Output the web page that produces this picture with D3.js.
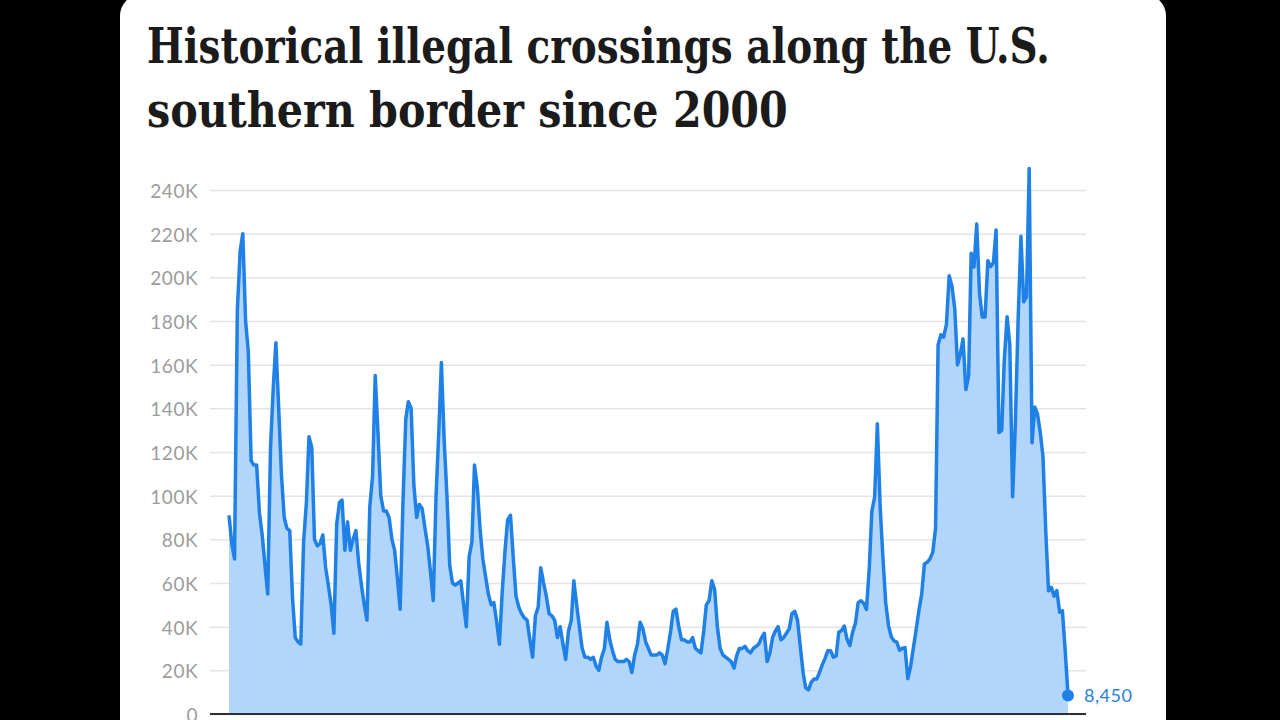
<!DOCTYPE html>
<html>
<head>
<meta charset="utf-8">
<script src="https://cdn.jsdelivr.net/npm/d3@7"></script>
<style>
  body { margin: 0; background: #000; }
  svg { display: block; }
</style>
</head>
<body>
<script>
// Monthly Border Patrol apprehensions, first month = Oct 1999, last = Feb 2025
const firstMonth = new Date(1999, 9, 1);
const crossings = [
  // FY2000
  91000, 78000, 71000, 185000, 212000, 220000, 180000, 166000, 116000, 114000, 114000, 92000,
  // FY2001
  82000, 68000, 55000, 122000, 150000, 170000, 140000, 110000, 90000, 85000, 84000, 53000,
  // FY2002
  35000, 33000, 32000, 79000, 97000, 127000, 122000, 80000, 77000, 78000, 82000, 67000,
  // FY2003
  59000, 50000, 37000, 87000, 97000, 98000, 75000, 88000, 75000, 80000, 84000, 69000,
  // FY2004
  59000, 50000, 43000, 95000, 109000, 155000, 128000, 100000, 93000, 93000, 90000, 80000,
  // FY2005
  75000, 62000, 48000, 97000, 135000, 143000, 140000, 105000, 90000, 96000, 94000, 85000,
  // FY2006
  77000, 65000, 52000, 100000, 130000, 161000, 125000, 100000, 68000, 60000, 59000, 60000,
  // FY2007
  61000, 50000, 40000, 72000, 79000, 114000, 104000, 85000, 71000, 63000, 55000, 50000,
  // FY2008
  51000, 42000, 32000, 56000, 75000, 89000, 91000, 72000, 54000, 49000, 46000, 44000,
  // FY2009
  43000, 34000, 26000, 45000, 49000, 67000, 60000, 54000, 46000, 45000, 43000, 35000,
  // FY2010
  40000, 32000, 25000, 38000, 43000, 61000, 50000, 40000, 30000, 26000, 26000, 25000,
  // FY2011
  26000, 22000, 20000, 26000, 30000, 42000, 34000, 29000, 25000, 24000, 24000, 24000,
  // FY2012
  25000, 24000, 19000, 27000, 32000, 42000, 39000, 33000, 30000, 27000, 27000, 27000,
  // FY2013
  28000, 27000, 23000, 30000, 38000, 47000, 48000, 40000, 34000, 34000, 33000, 33000,
  // FY2014
  35000, 30000, 29000, 28000, 38000, 50000, 52000, 61000, 57000, 40000, 30000, 27000,
  // FY2015
  26000, 25000, 24000, 21000, 27000, 30000, 30000, 31000, 29000, 28000, 30000, 31000,
  // FY2016
  32000, 35000, 37000, 24000, 28000, 35000, 38000, 40000, 34000, 35000, 37000, 39000,
  // FY2017
  46000, 47000, 43000, 31000, 19000, 12000, 11000, 14500, 16000, 16000, 19000, 22600,
  // FY2018
  25500, 29000, 29000, 26000, 26600, 37400, 38200, 40300, 34100, 31300, 37500, 41500,
  // FY2019
  51000, 51900, 50700, 47900, 66900, 92800, 99300, 132900, 94900, 71900, 51000, 40500,
  // FY2020
  35400, 33500, 32900, 29200, 30100, 30400, 16200, 21600, 30200, 38300, 47300, 54800,
  // FY2021
  68700, 69500, 71000, 74000, 85000, 169000, 173700, 172600, 178400, 200700, 195900, 185500,
  // FY2022
  159900, 164800, 171800, 148600, 155000, 211000, 204700, 224400, 192600, 181800, 181800, 207600,
  // FY2023
  204900, 206700, 221700, 128900, 130000, 162000, 182000, 169000, 99500, 132600, 181000, 218800,
  // FY2024
  188800, 191000, 249800, 124200, 140600, 137500, 128900, 117900, 83500, 56400, 58000, 54000,
  // FY2025
  56500, 46600, 47300, 29100, 8450
];
const yTicks = [0, 20000, 40000, 60000, 80000, 100000, 120000, 140000, 160000, 180000, 200000, 220000, 240000];
const titleLines = ["Historical illegal crossings along the U.S.", "southern border since 2000"];

const data = crossings.map((v, i) => ({ date: d3.timeMonth.offset(firstMonth, i), value: v }));
const last = data[data.length - 1];

const width = 1280, height = 720;
const svg = d3.select("body").append("svg")
  .attr("width", width)
  .attr("height", height);

// black page + white card
svg.append("rect").attr("width", width).attr("height", height).attr("fill", "#000");
svg.append("rect")
  .attr("x", 120).attr("y", -6)
  .attr("width", 1046).attr("height", 820)
  .attr("rx", 22)
  .attr("fill", "#fff");

// Title - condensed by scaling each line to the width it has in the original
const titleWidths = [903, 641];
svg.selectAll(".title")
  .data(titleLines)
  .enter().append("text")
  .attr("class", "title")
  .style("font-family", "'DejaVu Serif', 'Liberation Serif', serif")
  .style("font-weight", "bold")
  .style("font-size", "49px")
  .style("fill", "#1b1b1b")
  .text(d => d)
  .attr("transform", function(d, i) {
    const sx = titleWidths[i] / this.getComputedTextLength();
    return `translate(147,${63 + i * 64}) scale(${sx},1)`;
  });

const x = d3.scaleTime()
  .domain([firstMonth, last.date])
  .range([229, 1068]);

const y = d3.scaleLinear()
  .domain([0, 240000])
  .range([714, 190]);

// Gridlines + tick labels
const yAxis = svg.append("g")
  .attr("transform", "translate(210,0)")
  .call(d3.axisLeft(y)
    .tickValues(yTicks)
    .tickSize(-876)
    .tickPadding(12)
    .tickFormat(d => d === 0 ? "0" : (d / 1000) + "K"));
yAxis.select(".domain").remove();
yAxis.selectAll(".tick line")
  .attr("stroke", "#e4e4e4")
  .attr("stroke-width", 1.5);
yAxis.selectAll(".tick text")
  .attr("fill", "#9c9c9c")
  .style("font-family", "Lato, 'Open Sans', sans-serif")
  .style("font-size", "19px")
  .style("letter-spacing", "0.5px")
  .attr("dy", "0.4em");

// Area
const area = d3.area()
  .x(d => x(d.date))
  .y0(y(0))
  .y1(d => y(d.value));

svg.append("path")
  .datum(data)
  .attr("fill", "#b2d6fb")
  .attr("d", area);

// Line
const line = d3.line()
  .x(d => x(d.date))
  .y(d => y(d.value));

svg.append("path")
  .datum(data)
  .attr("fill", "none")
  .attr("stroke", "#1f80e6")
  .attr("stroke-width", 3.5)
  .attr("stroke-linejoin", "round")
  .attr("d", line);

// Baseline
svg.append("line")
  .attr("x1", 210).attr("x2", 1086)
  .attr("y1", y(0)).attr("y2", y(0))
  .attr("stroke", "#2b2f36")
  .attr("stroke-width", 2);

// Last point marker + label
svg.append("circle")
  .attr("cx", x(last.date))
  .attr("cy", y(last.value))
  .attr("r", 6)
  .attr("fill", "#1f80e6");

svg.append("text")
  .attr("x", x(last.date) + 16)
  .attr("y", y(last.value))
  .attr("dy", "0.36em")
  .style("font-family", "Lato, 'Open Sans', sans-serif")
  .style("font-size", "18px")
  .style("letter-spacing", "0.5px")
  .style("fill", "#2a7fd8")
  .text(d3.format(",")(last.value));
</script>
</body>
</html>
